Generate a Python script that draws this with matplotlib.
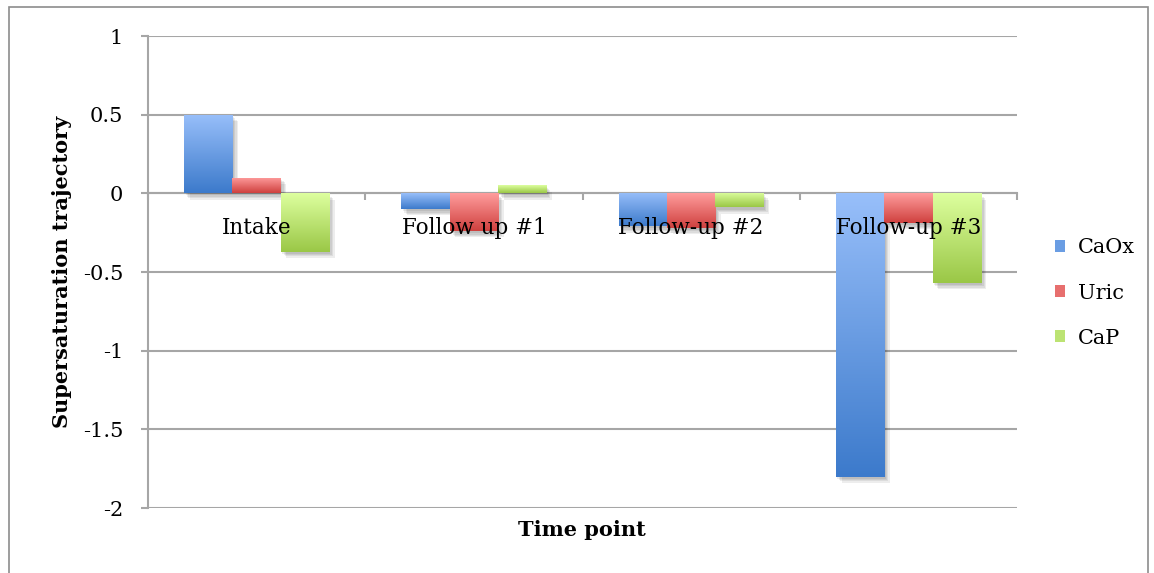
import numpy as np
import matplotlib.pyplot as plt
import matplotlib.patheffects as pe
from matplotlib.colors import to_rgb
from matplotlib.patches import Rectangle

time_points = ['Intake', 'Follow up #1', 'Follow-up #2', 'Follow-up #3']
caox = [0.5, -0.1, -0.21, -1.8]
uric = [0.1, -0.24, -0.22, -0.19]
cap = [-0.37, 0.05, -0.09, -0.57]

series_names = ['CaOx', 'Uric', 'CaP']
series_vals = [caox, uric, cap]
# light (top) -> dark (bottom) fill for each series
grad_colors = [('#98BFFA', '#3C7ACB'), ('#FF9D9D', '#CF403E'), ('#DDFF9F', '#9AC746')]

plt.rcParams['font.family'] = 'DejaVu Serif'
grid_gray = '#A6A6A6'

fig = plt.figure(figsize=(11.54, 5.73), dpi=100)
ax = fig.add_axes([148 / 1154, 1 - 508 / 573, (1017 - 148) / 1154, (508 - 36) / 573])

# soft drop shadow built from a few faint offset copies
shadow = [pe.SimplePatchShadow(offset=(1 + k, -1.5 - k), shadow_rgbFace='k', alpha=0.07)
          for k in range(4)] + [pe.Normal()]

x = np.arange(len(time_points))
width = 1 / 4.5
t = np.linspace(0, 1, 400)[:, None, None]
legend_handles = []
for i, (name, vals, cols) in enumerate(zip(series_names, series_vals, grad_colors)):
    bars = ax.bar(x + (i - 1) * width, vals, width, facecolor='none', edgecolor='none',
                  zorder=3, path_effects=shadow)
    top, bot = np.array(to_rgb(cols[0])), np.array(to_rgb(cols[1]))
    rgb = np.repeat(top * (1 - t) + bot * t, 4, axis=1)
    for b in bars:
        x0, y0, h = b.get_x(), b.get_y(), b.get_height()
        lo, hi = min(y0, y0 + h), max(y0, y0 + h)
        im = ax.imshow(rgb, aspect='auto', interpolation='nearest',
                       extent=[x0, x0 + b.get_width(), lo, hi], origin='upper', zorder=3.5)
        im.set_clip_path(b)
    legend_handles.append(Rectangle((0, 0), 1, 1, facecolor=(top + bot) / 2, edgecolor='none'))

ax.set_xlim(-0.5, len(time_points) - 0.5)
ax.set_ylim(-2, 1)
ax.set_yticks([1, 0.5, 0, -0.5, -1, -1.5, -2])
ax.set_yticklabels(['1', '0.5', '0', '-0.5', '-1', '-1.5', '-2'])
ax.yaxis.grid(True, color=grid_gray, lw=1.5)
ax.set_axisbelow(True)

for s in ['top', 'right']:
    ax.spines[s].set_visible(False)
ax.spines['left'].set_color(grid_gray)
ax.spines['left'].set_linewidth(1.5)
ax.spines['bottom'].set_position(('data', 0))
ax.spines['bottom'].set_color(grid_gray)
ax.spines['bottom'].set_linewidth(1.5)

ax.set_xticks(np.arange(len(time_points) + 1) - 0.5)
ax.set_xticklabels([])
ax.tick_params(axis='x', direction='out', length=5, width=1.5, color=grid_gray)
ax.tick_params(axis='y', direction='out', length=5, width=1.5, color=grid_gray,
               labelsize=15, pad=13)

# category names sit just under the zero line, drawn over the bars
for xi, lab in zip(x, time_points):
    ax.annotate(lab, (xi, 0), xytext=(0, -17), textcoords='offset points',
                ha='center', va='top', fontsize=15.5, zorder=6)

ax.set_ylabel('Supersaturation trajectory', fontsize=15, fontweight='bold', labelpad=8)
fig.text(582 / 1154, 1 - 530 / 573, 'Time point', ha='center', va='center',
         fontsize=15, fontweight='bold')

fig.legend(legend_handles, series_names, loc='center left',
           bbox_to_anchor=(1055 / 1154, 1 - 293 / 573), frameon=False,
           fontsize=15, handlelength=0.5, handleheight=0.5, handletextpad=0.6,
           labelspacing=1.25, borderpad=0, borderaxespad=0)

# outer chart frame
fig.patches.append(Rectangle((9 / 1154, -0.05), (1148 - 9) / 1154, 1.05 - 7 / 573,
                             transform=fig.transFigure, fill=False,
                             edgecolor='#8C8C8C', lw=1.2))

fig.savefig('out.png', dpi=100)
